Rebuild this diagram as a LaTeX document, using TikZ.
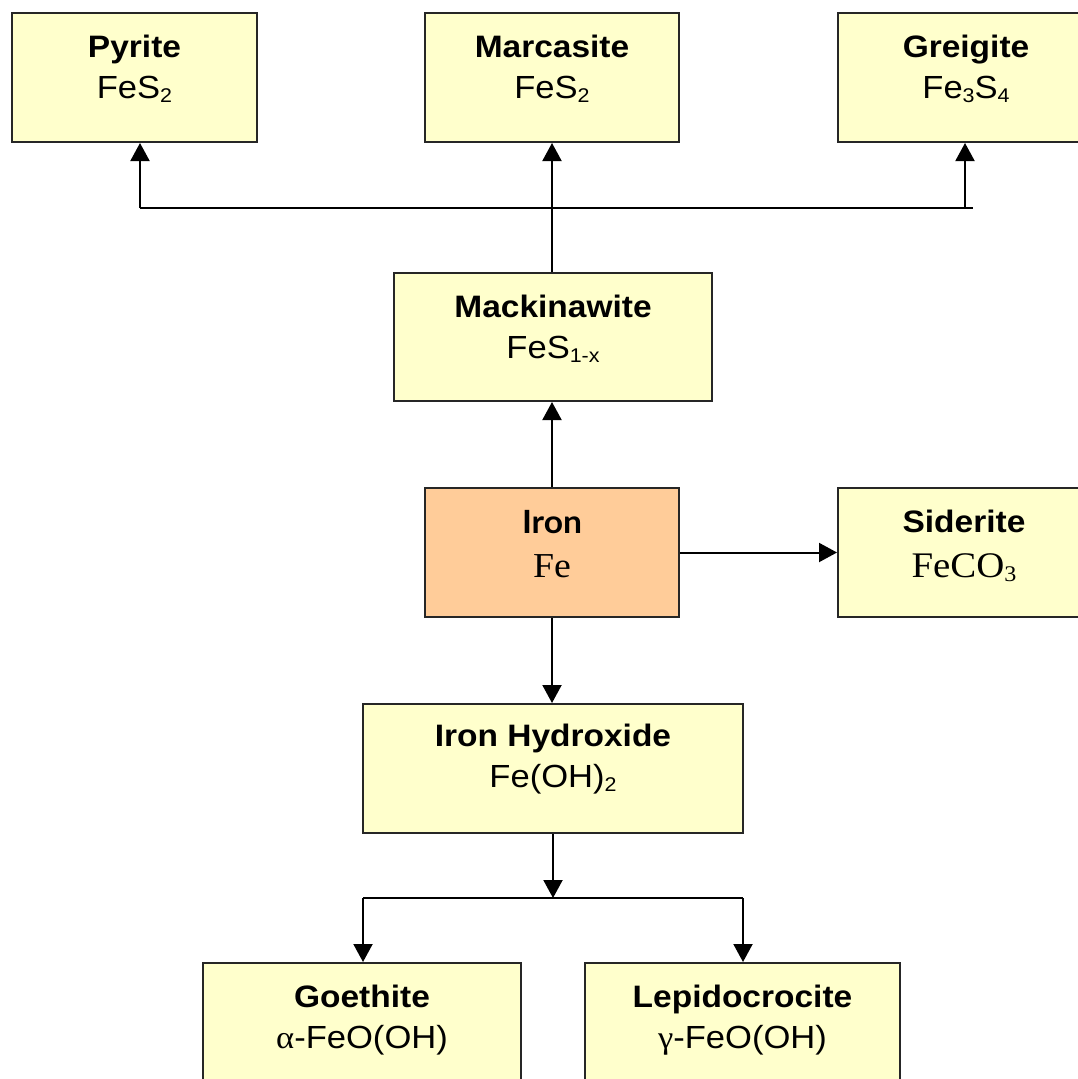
\documentclass[tikz,border=0pt]{standalone}
\usepackage{fontspec}
\setmainfont{Liberation Sans}[FakeStretch=1.08]
\newfontfamily\serifF{Liberation Serif}[FakeStretch=1.08]
\newfontfamily\ironF{Lato}[FakeStretch=1.05]
\usetikzlibrary{arrows.meta}
\definecolor{boxfill}{HTML}{FFFFCC}
\definecolor{ironfill}{HTML}{FFCC99}
\definecolor{edgecol}{HTML}{262626}
\newcommand\lsub[1]{\raisebox{-4pt}{\scalebox{0.62}{#1}}}
\begin{document}
\begin{tikzpicture}[x=1pt,y=-1pt,
  box/.style={draw=edgecol, line width=2pt, fill=boxfill, inner sep=0pt},
  nm/.style={anchor=base, inner sep=0pt, font=\fontsize{31}{31}\selectfont\bfseries},
  fm/.style={anchor=base, inner sep=0pt, font=\fontsize{32}{32}\selectfont},
  conn/.style={line width=2pt, draw=black},
  arr/.style={conn, -{Triangle[length=18pt,width=19pt]}}]
\useasboundingbox (0,0) rectangle (1078,1079);
\clip (0,0) rectangle (1078,1079);
\fill[white] (0,0) rectangle (1078,1079);

% boxes
\node[box, minimum width=245pt, minimum height=129pt] (pyr) at (134.5,77.5) {};
\node[box, minimum width=254pt, minimum height=129pt] (mar) at (552,77.5) {};
\node[box, minimum width=256pt, minimum height=129pt] (gre) at (966,77.5) {};
\node[box, minimum width=318pt, minimum height=128pt] (mac) at (553,337) {};
\node[box, fill=ironfill, minimum width=254pt, minimum height=129pt] (iron) at (552,552.5) {};
\node[box, minimum width=252pt, minimum height=129pt] (sid) at (964,552.5) {};
\node[box, minimum width=380pt, minimum height=129pt] (hyd) at (553,768.5) {};
\node[box, minimum width=318pt, minimum height=129pt] (goe) at (362,1027.5) {};
\node[box, minimum width=315pt, minimum height=129pt] (lep) at (742.5,1027.5) {};

% texts
\node[nm] (pyrn) at ([yshift=-45pt]pyr.north) {Pyrite};
\node[fm] (pyrf) at ([yshift=-86pt]pyr.north) {FeS\lsub{2}};
\node[nm] (marn) at ([yshift=-45pt]mar.north) {Marcasite};
\node[fm] (marf) at ([yshift=-86pt]mar.north) {FeS\lsub{2}};
\node[nm] (gren) at ([yshift=-45pt]gre.north) {Greigite};
\node[fm] (gref) at ([yshift=-86pt]gre.north) {Fe\lsub{3}S\lsub{4}};
\node[nm] (macn) at ([yshift=-45pt]mac.north) {Mackinawite};
\node[fm] (macf) at ([yshift=-86pt]mac.north) {FeS\lsub{1-x}};
\node[anchor=base, inner sep=0pt, font=\fontsize{32}{32}\selectfont\ironF\bfseries] (ironn) at ([yshift=-46pt]iron.north) {Iron};
\node[anchor=base, inner sep=0pt, font=\fontsize{35}{35}\selectfont\serifF] (ironf) at ([yshift=-90pt]iron.north) {Fe};
\node[nm] (sidn) at ([yshift=-45pt]sid.north) {Siderite};
\node[anchor=base, inner sep=0pt, font=\fontsize{36}{36}\selectfont\serifF] (sidf) at ([yshift=-90pt]sid.north) {FeCO\lsub{3}};
\node[nm] (hydn) at ([yshift=-43pt]hyd.north) {Iron Hydroxide};
\node[fm] (hydf) at ([yshift=-84pt]hyd.north) {Fe(OH)\lsub{2}};
\node[nm] (goen) at ([yshift=-45pt]goe.north) {Goethite};
\node[fm] (goef) at ([yshift=-86pt]goe.north) {{\serifF α}-FeO(OH)};
\node[nm] (lepn) at ([yshift=-45pt]lep.north) {Lepidocrocite};
\node[fm] (lepf) at ([yshift=-86pt]lep.north) {{\serifF γ}-FeO(OH)};

% top connectors
\coordinate (tl) at (140,208);
\coordinate (tr) at (973,208);
\coordinate (tg) at (965,208);
\draw[conn] (tl) -- (tr);
\draw[arr] (tl) -- (tl |- pyr.south);
\draw[arr] (tg) -- (tg |- gre.south);
\draw[arr] (mac.north -| mar.south) -- (mar.south);

% iron connectors
\draw[arr] (iron.north) -- (iron.north |- mac.south);
\draw[arr] (iron.east) -- (iron.east -| sid.west);
\draw[arr] (iron.south) -- (iron.south |- hyd.north);

% bottom connectors
\coordinate (jb) at (553,898);
\coordinate (bl) at (363,898);
\coordinate (br) at (743,898);
\draw[arr] (hyd.south) -- (jb);
\draw[conn] (bl) -- (br);
\draw[arr] (bl) -- (bl |- goe.north);
\draw[arr] (br) -- (br |- lep.north);
\end{tikzpicture}
\end{document}
